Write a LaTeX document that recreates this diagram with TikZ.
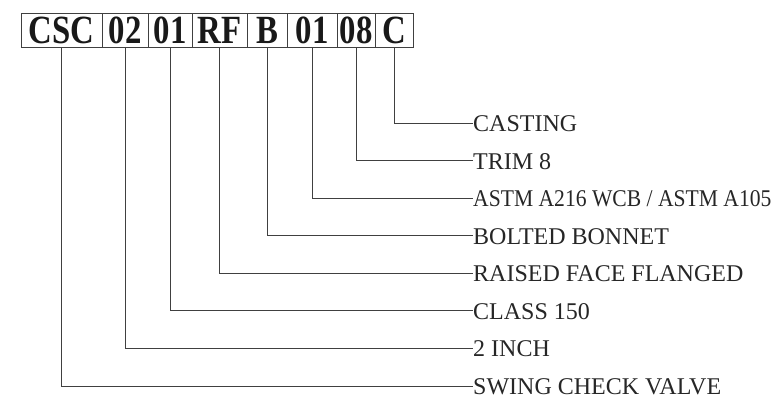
\documentclass[tikz,border=0pt]{standalone}
\usepackage{fontspec}
\setmainfont{Liberation Serif}
\newfontfamily\boxfont[FakeStretch=0.82]{Liberation Serif}
\newfontfamily\tightfont[FakeStretch=0.9]{Liberation Serif}
\usetikzlibrary{positioning}
\tikzset{
  seg/.style={rectangle, draw=black!75, line width=1pt, text=black!90, minimum height=34pt, inner sep=0, text height=27pt, text depth=0pt, font=\boxfont\bfseries\fontsize{40}{40}\selectfont},
  desc/.style={anchor=west, inner sep=0, text=black!85, text height=17pt, text depth=0pt, font=\fontsize{24}{24}\selectfont},
  lead/.style={draw=black!75, line width=1pt}
}

\begin{document}
\begin{tikzpicture}[x=1pt, y=-1pt]
      \useasboundingbox (0, 0) rectangle (777, 400);

      \node[seg, minimum width=81pt](vt) at (61.5, 30){CSC};
      \node[seg, minimum width=46pt](sz) at (125, 30){02};
      \node[seg, minimum width=44pt](pr) at (170, 30){01};
      \node[seg, minimum width=55pt](en) at (219.5, 30){RF};
      \node[seg, minimum width=40pt](bn) at (267, 30){B};
      \node[seg, minimum width=50pt](bd) at (312, 30){01};
      \node[seg, minimum width=38pt](tr) at (356, 30){08};
      \node[seg, minimum width=38pt](mk) at (394, 30){C};

      \node[desc](lmk) at (473, 123){CASTING};
      \node[desc](ltr) at (473, 160.6){TRIM 8};
      \node[desc](lbd) at (473, 198.1){\tightfont ASTM A216 WCB / ASTM A105};
      \node[desc](lbn) at (473, 235.7){BOLTED BONNET};
      \node[desc](len) at (473, 273.3){RAISED FACE FLANGED};
      \node[desc](lpr) at (473, 310.9){CLASS 150};
      \node[desc](lsz) at (473, 348.4){2 INCH};
      \node[desc](lvt) at (473, 386){SWING CHECK VALVE};

      \draw[lead](mk.south) |- (lmk.west);
      \draw[lead](tr.south) |- (ltr.west);
      \draw[lead](bd.south) |- (lbd.west);
      \draw[lead](bn.south) |- (lbn.west);
      \draw[lead](en.south) |- (len.west);
      \draw[lead](pr.south) |- (lpr.west);
      \draw[lead](sz.south) |- (lsz.west);
      \draw[lead](vt.south) |- (lvt.west);
    \end{tikzpicture}
\end{document}
